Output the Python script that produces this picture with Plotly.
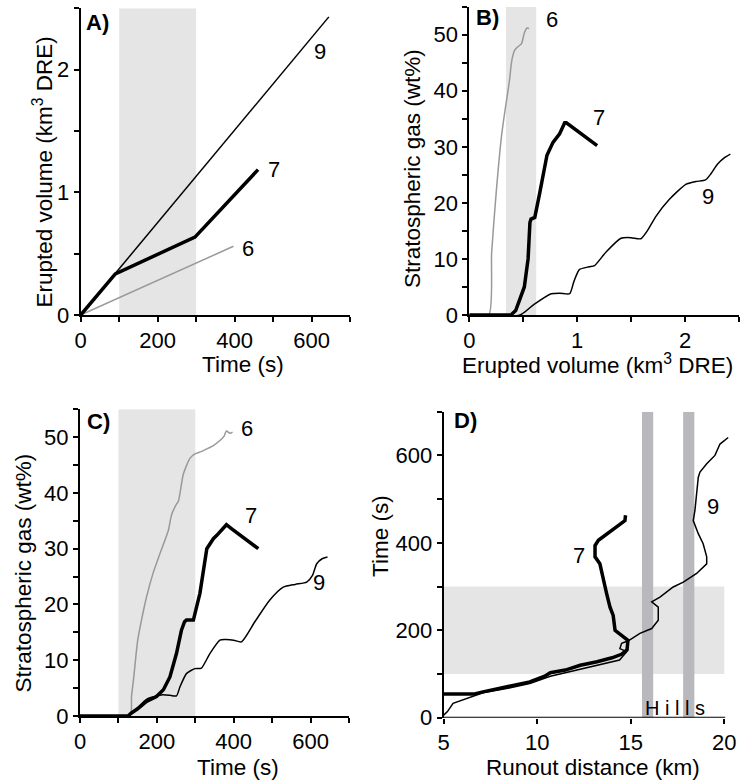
import plotly.graph_objects as go

# ---------------- data ----------------
# Panel A: erupted volume (km3 DRE) vs time (s)
a_run9_t = [0, 645]
a_run9_v = [0, 2.43]
a_run7_t = [0, 90, 297, 461]
a_run7_v = [0, 0.335, 0.635, 1.185]
a_run6_t = [0, 397]
a_run6_v = [0, 0.56]

# Panel B: stratospheric gas (wt%) vs erupted volume (km3 DRE)
b_run6_v = [0, 0.18, 0.207, 0.25, 0.299, 0.335, 0.37, 0.395, 0.42, 0.447, 0.484, 0.51, 0.535, 0.554]
b_run6_g = [0, 0, 11.1, 22, 32, 37.0, 41.5, 45.5, 47.2, 47.8, 48.4, 50.3, 51.2, 51.1]
b_run7_v = [0, 0.385, 0.43, 0.468, 0.51, 0.545, 0.562, 0.572, 0.607, 0.653, 0.69, 0.72, 0.776, 0.837, 0.884, 0.9, 1.185]
b_run7_g = [0, 0, 0.8, 2.7, 5.0, 10.0, 16.5, 17.1, 17.4, 21.8, 25.5, 28.5, 30.8, 32.3, 34.3, 34.3, 30.2]
b_run9_v = [0, 0.47, 0.6, 0.76, 0.84, 0.93, 0.97, 1.02, 1.11, 1.16, 1.27, 1.407, 1.5, 1.59, 1.65, 1.73, 1.853, 2.007, 2.1, 2.19, 2.24, 2.3, 2.36, 2.42]
b_run9_g = [0, 0, 1.9, 3.8, 3.9, 3.8, 6.0, 8.1, 8.6, 8.8, 11.3, 13.7, 13.8, 13.6, 15.0, 17.6, 20.6, 23.3, 23.8, 24.1, 25.2, 26.9, 28.0, 28.7]

# Panel C: stratospheric gas (wt%) vs time (s)
c_run6_t = [0, 130, 134, 139, 150, 160, 173, 191, 208, 230, 238, 251, 256, 269, 286, 299, 315, 330, 347, 364, 375, 381, 390, 397]
c_run6_g = [0, 0, 3.5, 6.4, 13.5, 17.2, 21.3, 25.8, 29.1, 33.3, 36.0, 38.0, 38.5, 43.4, 46.2, 47.0, 47.4, 47.9, 48.5, 49.4, 50.2, 51.1, 50.7, 50.9]
c_run7_t = [0, 125, 133, 150, 173, 199, 217, 234, 251, 264, 272, 277, 295, 312, 330, 347, 356, 364, 377, 381, 394, 464]
c_run7_g = [0, 0, 0.5, 1.3, 2.6, 3.5, 4.7, 7.0, 11.2, 15.4, 16.9, 17.2, 17.2, 22.0, 30.0, 31.8, 32.4, 33.0, 34.2, 34.3, 33.6, 30.0]
c_run9_t = [0, 125, 150, 173, 195, 215, 235, 251, 260, 277, 299, 316, 338, 364, 377, 400, 420, 455, 494, 529, 560, 590, 605, 616, 630, 644]
c_run9_g = [0, 0, 1.5, 3.0, 3.5, 3.8, 3.7, 3.6, 5.2, 7.6, 8.5, 8.6, 11.2, 13.6, 13.7, 13.6, 13.3, 16.9, 20.8, 23.1, 23.6, 24.0, 25.2, 27.3, 28.2, 28.5]

# Panel D: time (s) vs runout distance (km)
d_run7_km = [5.0, 6.6, 7.1, 8.5, 9.6, 10.4, 10.7, 11.5, 12.3, 13.2, 14.0, 14.5, 14.8, 14.85, 14.5, 14.16, 14.06, 13.89, 13.71, 13.53, 13.35, 13.09, 13.09, 13.27, 14.06, 14.69, 14.72]
d_run7_t = [54, 54, 59, 71, 82, 95, 103, 109, 120, 128, 137, 145, 155, 177, 189, 200, 234, 253, 284, 314, 352, 368, 394, 406, 432, 451, 463]
d_run9_km = [5.0, 5.2, 5.5, 6.2, 7.1, 8.5, 9.6, 10.7, 11.2, 12.3, 13.5, 14.4, 14.78, 14.42, 14.51, 14.87, 15.49, 16.12, 16.47, 16.47, 16.12, 16.56, 17.27, 17.81, 18.52, 19.06, 19.06, 18.87, 18.61, 18.34, 18.43, 18.52, 18.61, 18.7, 19.06, 19.5, 19.77, 20.21]
d_run9_t = [6, 14, 33, 44, 57, 68, 78, 95, 100, 112, 123, 132, 151, 158, 170, 176, 193, 204, 223, 253, 265, 276, 299, 310, 330, 352, 368, 398, 421, 451, 474, 505, 550, 562, 581, 600, 626, 641]

# shaded periods and hills
shade_time = [100, 300]
shade_volume = [0.34, 0.62]
hills_km = [[15.6, 16.2], [17.8, 18.4]]

# ---------------- figure ----------------
W, H = 742, 780
FONT = "Liberation Sans, Arial, sans-serif"
GREY = "#999999"
SHADE = "#e5e5e5"
HILL = "#b9b9bd"
TICK_SIZE = 22
TITLE_SIZE = 22.5


def px2x(px):
    return px / W


def px2y(py):
    return 1 - py / H


fig = go.Figure()


def line(x, y, ax, color, width, shape="linear"):
    fig.add_trace(go.Scatter(x=x, y=y, mode="lines", xaxis=ax[0], yaxis=ax[1],
                             line=dict(color=color, width=width, shape=shape, smoothing=0.6),
                             showlegend=False, hoverinfo="skip"))


# Panel A
line(a_run6_t, a_run6_v, ("x", "y"), GREY, 1.5)
line(a_run9_t, a_run9_v, ("x", "y"), "black", 1.5)
line(a_run7_t, a_run7_v, ("x", "y"), "black", 3.5)
# Panel B
line(b_run6_v, b_run6_g, ("x2", "y2"), GREY, 1.5, "spline")
line(b_run9_v, b_run9_g, ("x2", "y2"), "black", 1.5, "spline")
line(b_run7_v, b_run7_g, ("x2", "y2"), "black", 3.5)
# Panel C
line(c_run6_t, c_run6_g, ("x3", "y3"), GREY, 1.5, "spline")
line(c_run9_t, c_run9_g, ("x3", "y3"), "black", 1.5, "spline")
line(c_run7_t, c_run7_g, ("x3", "y3"), "black", 3.5)
# Panel D
line(d_run9_km, d_run9_t, ("x4", "y4"), "black", 1.5)
line(d_run7_km, d_run7_t, ("x4", "y4"), "black", 3.5)


def axis(domain, rng, dtick, minor, anchor, tick0, showline=True):
    d = dict(domain=domain, range=rng, anchor=anchor, showline=showline, linecolor="black", linewidth=2,
             ticks="outside", ticklen=5, tickwidth=2, tickcolor="black", dtick=dtick, tick0=tick0,
             showgrid=False, zeroline=False, fixedrange=True, automargin=False,
             tickfont=dict(family=FONT, size=TICK_SIZE, color="black"))
    if minor:
        d["minor"] = dict(dtick=minor, ticks="outside", ticklen=5, tickwidth=2, tickcolor="black", showgrid=False)
    return d


fig.update_layout(
    width=W, height=H, margin=dict(l=0, r=0, t=0, b=0, pad=0), autosize=False,
    paper_bgcolor="white", plot_bgcolor="white", showlegend=False,
    font=dict(family=FONT, size=TICK_SIZE, color="black"),
    xaxis=axis([px2x(80.7), px2x(350)], [0, 700], 200, 100, "y", 0),
    yaxis=axis([px2y(315), px2y(8.3)], [0, 2.5], 1, 0.5, "x", 0),
    xaxis2=axis([px2x(469.3), px2x(739)], [0, 2.5], 1, 0.5, "y2", 0),
    yaxis2=axis([px2y(315), px2y(6.7)], [0, 55], 10, 5, "x2", 0),
    xaxis3=axis([px2x(80), px2x(349)], [0, 700], 200, 100, "y3", 0),
    yaxis3=axis([px2y(716), px2y(409.3)], [0, 55], 10, 5, "x3", 0),
    xaxis4=axis([px2x(443.7), px2x(729.9)], [5, 20.3], 5, None, "y4", 5, showline=False),
    yaxis4=axis([px2y(717.7), px2y(411.7)], [0, 700], 200, 100, "x4", 0),
)

shapes = [
    dict(type="rect", xref="x", yref="y", x0=shade_time[0], x1=shade_time[1], y0=0, y1=2.5,
         fillcolor=SHADE, line=dict(width=0), layer="below"),
    dict(type="rect", xref="x2", yref="y2", x0=shade_volume[0], x1=shade_volume[1], y0=0, y1=55,
         fillcolor=SHADE, line=dict(width=0), layer="below"),
    dict(type="rect", xref="x3", yref="y3", x0=shade_time[0], x1=shade_time[1], y0=0, y1=55,
         fillcolor=SHADE, line=dict(width=0), layer="below"),
    dict(type="rect", xref="x4", yref="y4", x0=5, x1=20, y0=shade_time[0], y1=shade_time[1],
         fillcolor=SHADE, line=dict(width=0), layer="below"),
    dict(type="line", xref="x4", yref="y4", x0=5, x1=20.05, y0=0, y1=0,
         line=dict(color="black", width=2)),
]
for h0, h1 in hills_km:
    shapes.append(dict(type="rect", xref="x4", yref="y4", x0=h0, x1=h1, y0=0, y1=700,
                       fillcolor=HILL, line=dict(width=0), layer="below"))
fig.update_layout(shapes=shapes)

ann = []


def text(x, y, s, xref, yref, size=TICK_SIZE, angle=0, bold=False):
    ann.append(dict(x=x, y=y, xref=xref, yref=yref, text=("<b>%s</b>" % s) if bold else s,
                    showarrow=False, xanchor="center", yanchor="middle", textangle=angle,
                    font=dict(family=FONT, size=size, color="black")))


# panel letters
text(px2x(97), px2y(22), "A)", "paper", "paper", bold=True)
text(px2x(487.5), px2y(17.5), "B)", "paper", "paper", bold=True)
text(px2x(98.5), px2y(421.5), "C)", "paper", "paper", bold=True)
text(px2x(465.5), px2y(420.5), "D)", "paper", "paper", bold=True)

# axis titles
text(px2x(243), px2y(364), "Time (s)", "paper", "paper", size=TITLE_SIZE)
text(px2x(597.7), px2y(364), "Erupted volume (km<sup>3</sup> DRE)", "paper", "paper", size=TITLE_SIZE)
text(px2x(238), px2y(767), "Time (s)", "paper", "paper", size=TITLE_SIZE)
text(px2x(592.5), px2y(767), "Runout distance (km)", "paper", "paper", size=TITLE_SIZE)
text(px2x(42), px2y(172.5), "Erupted volume (km<sup>3</sup> DRE)", "paper", "paper", size=TITLE_SIZE, angle=-90)
text(px2x(412), px2y(169), "Stratospheric gas (wt%)", "paper", "paper", size=TITLE_SIZE, angle=-90)
text(px2x(23), px2y(573.5), "Stratospheric gas (wt%)", "paper", "paper", size=TITLE_SIZE, angle=-90)
text(px2x(380), px2y(536), "Time (s)", "paper", "paper", size=TITLE_SIZE, angle=-90)

# curve labels
text(622, 2.15, "9", "x", "y")
text(503, 1.185, "7", "x", "y")
text(435, 0.545, "6", "x", "y")
text(0.764, 52.7, "6", "x2", "y2")
text(1.205, 35.2, "7", "x2", "y2")
text(2.21, 21.1, "9", "x2", "y2")
text(435.6, 51.6, "6", "x3", "y3")
text(445, 36, "7", "x3", "y3")
text(621.6, 24, "9", "x3", "y3")
text(12.25, 370, "7", "x4", "y4")
text(19.42, 484, "9", "x4", "y4")
text(17.36, 23, "H i l l s", "x4", "y4", size=20)

fig.update_layout(annotations=ann)
fig.write_html(
    "out.html",
    config={"responsive": False, "displayModeBar": False},
    post_script="document.body.style.margin='0';document.body.style.padding='0';"
                "document.documentElement.style.overflow='hidden';",
)
